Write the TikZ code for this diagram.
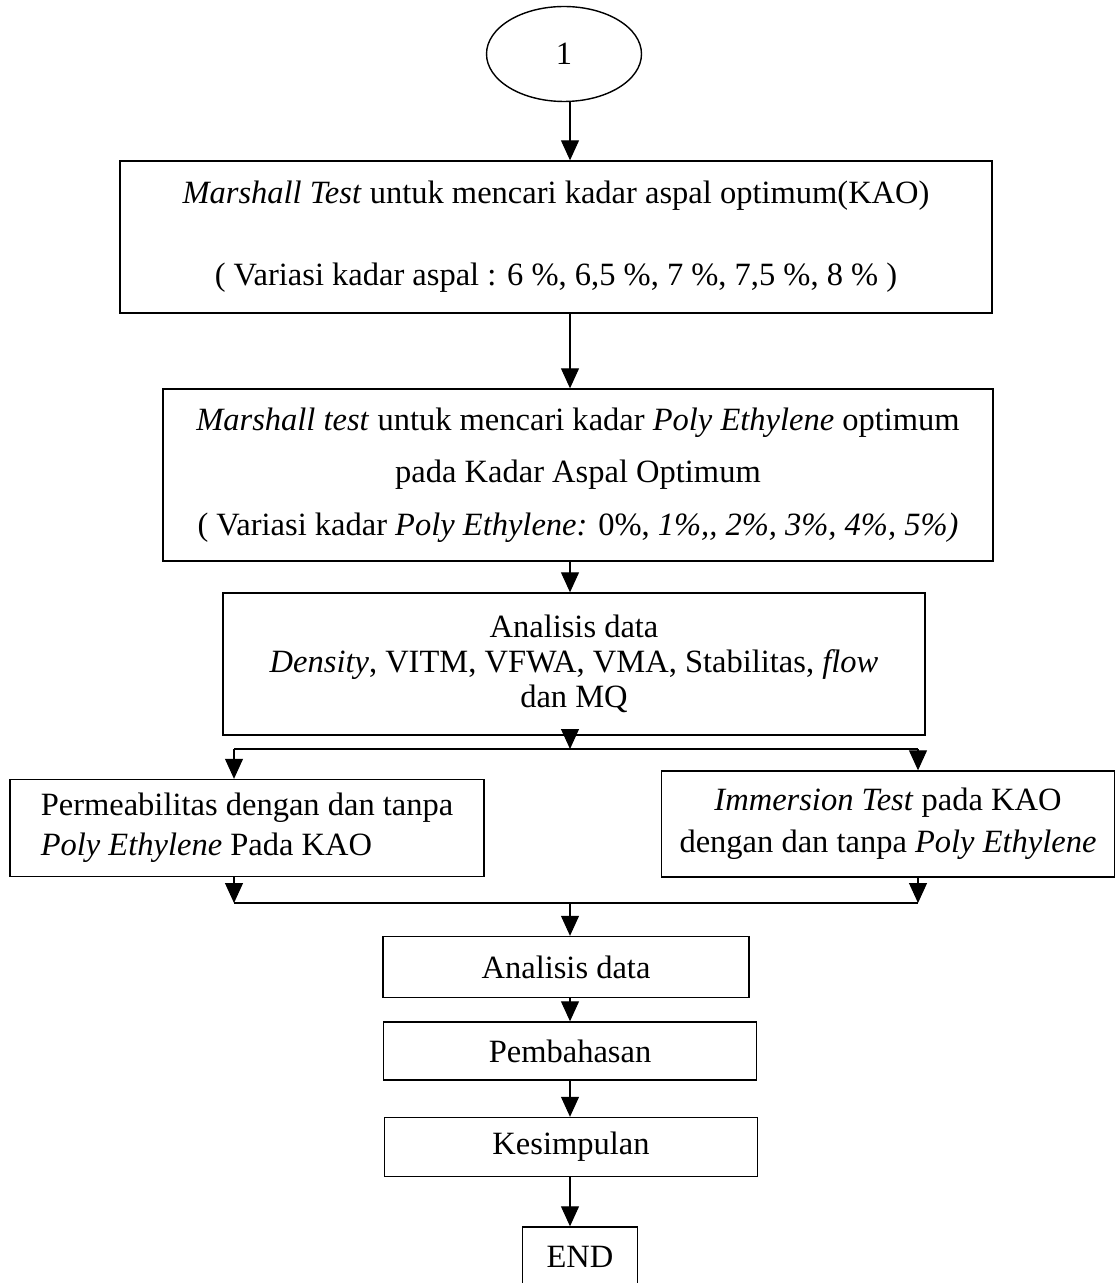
\documentclass[tikz,border=0pt]{standalone}
\usepackage{fontspec}
\setmainfont{Liberation Serif}
\usetikzlibrary{arrows.meta, shapes.geometric}
\tikzset{
  fbox/.style={rectangle, draw=black, thick, align=center, inner sep=1pt,
               font=\fontsize{18.5}{22}\selectfont},
  arr/.style={-{Triangle[length=0.4cm, width=0.36cm]}, semithick},
}

\begin{document}
\begin{tikzpicture}[x=0.02cm, y=-0.02cm]
  \useasboundingbox (0,0) rectangle (1117,1283);
  \coordinate (ax) at (570,0);

  \node[ellipse, draw, thick, minimum width=3.1cm, minimum height=1.9cm,
        font=\fontsize{18.5}{22}\selectfont] (start) at (564,54) {1};
  \node[fbox, minimum width=17.44cm, minimum height=3.04cm] (kao) at (556,237)
    {\textit{Marshall Test} untuk mencari kadar aspal optimum(KAO)\\[0.86cm]
     ( Variasi kadar aspal : 6 \%, 6,5 \%, 7 \%, 7,5 \%, 8 \% )};
  \node[fbox, minimum width=16.6cm, minimum height=3.44cm] (pe) at (578,475)
    {\textit{Marshall test} untuk mencari kadar \textit{Poly Ethylene} optimum\\[0.28cm]
     pada Kadar Aspal Optimum\\[0.28cm]
     ( Variasi kadar \textit{Poly Ethylene:} 0\%, \textit{1\%,{},{} 2\%, 3\%, 4\%, 5\%)}};
  \node[fbox, minimum width=14.04cm, minimum height=2.84cm] (anl) at (574,664)
    {Analisis data\\[-0.07cm]
     \textit{Density}, VITM, VFWA, VMA, Stabilitas, \textit{flow}\\[-0.07cm]
     dan MQ};
  \node[fbox, align=left, minimum width=9.48cm, minimum height=1.94cm] (perm) at (247,828)
    {Permeabilitas dengan dan tanpa\\[0.02cm]
     \textit{Poly Ethylene} Pada KAO};
  \node[fbox, minimum width=9.06cm, minimum height=2.12cm] (imm) at (888,824)
    {\textit{Immersion Test} pada KAO\\[0.06cm]
     dengan dan tanpa \textit{Poly Ethylene}};
  \node[fbox, minimum width=7.32cm, minimum height=1.22cm] (anl2) at (566,967) {Analisis data};
  \node[fbox, minimum width=7.46cm, minimum height=1.16cm] (bhs) at (570,1051) {Pembahasan};
  \node[fbox, minimum width=7.46cm, minimum height=1.18cm] (simp) at (571,1147) {Kesimpulan};
  \node[fbox, minimum width=2.3cm, minimum height=1.2cm] (end) at (580,1257) {END};

  % split and join points
  \coordinate (spl) at (570,749);
  \coordinate (sl) at (234,749);
  \coordinate (sr) at (918,749);
  \coordinate (jl) at (234,903);
  \coordinate (jr) at (918,903);

  \draw[arr] (start.south -| ax) -- (kao.north -| ax);
  \draw[arr] (kao.south -| ax) -- (pe.north -| ax);
  \draw[arr] (pe.south -| ax) -- (anl.north -| ax);
  \draw[arr] (anl.south -| ax) -- (spl);
  \draw[semithick] (sl) -- (sr);
  \draw[arr] (sl) -- (sl |- perm.north);
  \draw[arr] (sr) -- (sr |- imm.north);
  \draw[arr] (jl |- perm.south) -- (jl);
  \draw[arr] (jr |- imm.south) -- (jr);
  \draw[semithick] (jl) -- (jr);
  \draw[arr] (ax |- jl) -- (anl2.north -| ax);
  \draw[arr] (anl2.south -| ax) -- (bhs.north -| ax);
  \draw[arr] (bhs.south -| ax) -- (simp.north -| ax);
  \draw[arr] (simp.south -| ax) -- (end.north -| ax);
\end{tikzpicture}
\end{document}
